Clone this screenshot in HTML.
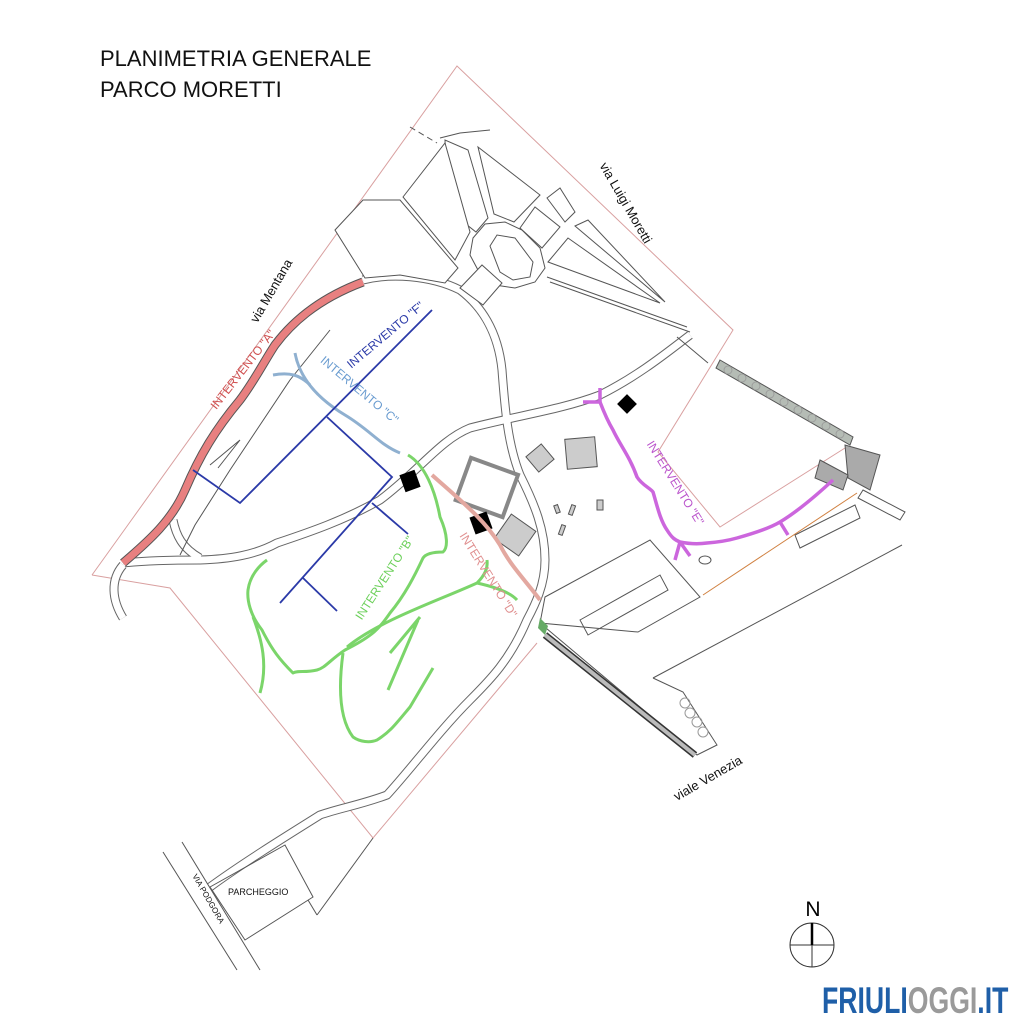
<!DOCTYPE html>
<html><head><meta charset="utf-8"><style>
html,body{margin:0;padding:0;background:#fff}
svg{display:block}
text{font-family:"Liberation Sans",sans-serif}
</style></head><body>
<svg width="1024" height="1024" viewBox="0 0 1024 1024" xmlns="http://www.w3.org/2000/svg">
<rect width="1024" height="1024" fill="#fff"/>
<text x="100" y="66" font-size="22" fill="#111">PLANIMETRIA GENERALE</text>
<text x="100" y="97" font-size="22" fill="#111">PARCO MORETTI</text>

<g fill="none" stroke="#d9a0a0" stroke-width="1">
<polyline points="92,575 457,66 733,330 658,452 720,527 845,448"/>
<polyline points="92,575 170,588 373,838 537,643"/>
</g>
<g fill="none" stroke="#555" stroke-width="1">
<polyline points="373,838 317,915"/>
</g>

<g fill="none" stroke="#666" stroke-width="9" stroke-linejoin="round">
<path id="p1" d="M123,563 C150,560 180,560 200,560 C230,559 255,555 277,543 C310,532 345,520 380,500 C420,470 440,440 470,428 C520,415 560,410 600,395 C640,375 670,350 690,335"/>
<path id="p2" d="M363,280 C390,273 430,275 460,290 C480,305 498,330 502,370 C505,410 508,445 520,475 C535,505 545,530 545,560 C545,585 535,605 527,620 C510,660 490,680 470,700 C440,730 410,770 387,795 C360,805 340,808 320,815 C280,840 240,865 210,887"/>
<path id="p3" d="M173,520 C176,535 182,548 200,558"/>
<path id="p4" d="M123,565 C110,580 112,600 123,618"/>
</g>
<g fill="none" stroke="#fff" stroke-width="7" stroke-linejoin="round">
<use href="#p1"/><use href="#p2"/><use href="#p3"/><use href="#p4"/>
</g>

<g fill="#fff" stroke="#555" stroke-width="1">
<polygon points="473,238 485,224 505,222 522,230 540,248 545,268 535,282 515,288 495,285 478,270 470,255"/>
<polygon points="490,246 497,235 515,238 533,262 530,277 513,280 500,272"/>
<polygon points="478,147 540,195 514,222 494,214"/>
<polygon points="468,150 488,218 476,232 448,210 445,140"/>
<polygon points="520,228 535,207 560,227 542,248"/>
<polygon points="547,198 560,188 575,212 565,222"/>
<polygon points="460,288 482,265 502,283 483,305"/>
<polygon points="548,262 568,238 660,303"/>
<polygon points="575,226 588,220 665,302"/>
<polygon points="403,197 445,143 470,232 455,260"/>
<polygon points="335,230 363,200 400,200 458,268 445,283 400,275 365,278"/>
</g>
<g fill="none" stroke="#555" stroke-width="1">
<polyline points="547,277 687,327"/>
<polyline points="550,282 690,332"/>
<polyline points="677,337 708,363"/>
<polyline points="410,127 437,143" stroke-dasharray="6,4"/>
<polyline points="440,138 460,133 490,130"/>
<polyline points="180,555 195,525 230,470 290,380 330,330"/>
<polyline points="210,465 240,440 218,468"/>
</g>

<g stroke="#555" stroke-width="1" fill="#ccc">
<rect x="530" y="448" width="20" height="20" transform="rotate(-40 540 458)"/>
<rect x="566" y="438" width="30" height="30" transform="rotate(-5 581 453)"/>
<rect x="597" y="500" width="6" height="10"/>
<rect x="570" y="505" width="4" height="10" transform="rotate(20 572 510)"/>
<rect x="560" y="525" width="4" height="10" transform="rotate(20 562 530)"/>
<rect x="555" y="505" width="4" height="8" transform="rotate(-20 557 509)"/>
<rect x="500" y="520" width="30" height="30" transform="rotate(35 515 535)"/>
<polygon points="720,360 853,437 850,445 716,368" fill="#b5bcb5"/>
<polygon points="845,445 880,455 870,490 848,478" fill="#aaa"/>
<polygon points="820,460 848,475 843,490 815,478" fill="#aaa"/>
<polygon points="863,490 905,512 900,520 858,498" fill="#fff"/>
<polygon points="795,535 855,505 860,518 800,548" fill="#fff"/>
</g>
<g fill="none" stroke="#999" stroke-width="0.8">
<circle cx="728" cy="370" r="4"/><circle cx="742" cy="378" r="4"/><circle cx="756" cy="386" r="4"/><circle cx="770" cy="394" r="4"/><circle cx="784" cy="402" r="4"/><circle cx="798" cy="410" r="4"/><circle cx="812" cy="418" r="4"/><circle cx="826" cy="426" r="4"/><circle cx="840" cy="434" r="4"/>
</g>
<rect x="462" y="465" width="50" height="45" fill="none" stroke="#888" stroke-width="4" transform="rotate(20 487 487)"/>
<rect x="402" y="472" width="16" height="18" fill="#000" transform="rotate(-20 410 481)"/>
<rect x="472" y="514" width="18" height="18" fill="#000" transform="rotate(-20 481 523)"/>
<rect x="620" y="397" width="14" height="14" fill="#000" transform="rotate(45 627 404)"/>
<g fill="none" stroke="#555" stroke-width="1">
<polygon points="545,597 650,540 700,597 638,632 540,623"/>
<polygon points="580,620 660,575 668,590 588,635"/>
<polyline points="540,623 697,755 717,745 683,692 653,678"/>
<line x1="653" y1="678" x2="902" y2="545"/>
<line x1="703" y1="595" x2="857" y2="493" stroke="#d08040"/>
<ellipse cx="705" cy="560" rx="6" ry="4"/>
<polyline points="182,842 260,970"/>
<polyline points="163,852 237,970"/>
<polygon points="210,887 285,845 313,897 245,940"/>
<polyline points="308,900 317,915"/>
</g>
<g fill="none" stroke="#999" stroke-width="1">
<circle cx="685" cy="703" r="5"/><circle cx="690" cy="713" r="5"/><circle cx="697" cy="722" r="5"/><circle cx="703" cy="732" r="5"/>
</g>
<path d="M545,635 L695,755" stroke="#333" stroke-width="7" fill="none"/>
<path d="M545,635 L695,755" stroke="#bbb" stroke-width="4" fill="none"/>

<path d="M123,563 C150,540 172,520 185,490 C200,455 215,430 240,400 C255,380 265,360 275,345 C290,325 315,300 363,282" fill="none" stroke="#555" stroke-width="9"/>
<path d="M123,563 C150,540 172,520 185,490 C200,455 215,430 240,400 C255,380 265,360 275,345 C290,325 315,300 363,282" fill="none" stroke="#e88080" stroke-width="7"/>
<g fill="none" stroke="#8fb0d0" stroke-width="3">
<path d="M295,353 C300,380 320,400 345,415 C370,430 380,445 400,453"/>
<path d="M273,375 C290,372 300,375 310,385"/>
</g>
<g fill="none" stroke="#2b3aa8" stroke-width="1.8">
<polyline points="432,310 240,503 193,470"/>
<polyline points="327,417 392,477 280,603"/>
<line x1="372" y1="503" x2="408" y2="534"/>
<line x1="303" y1="578" x2="337" y2="611"/>
</g>
<path d="M432,475 C460,500 485,520 500,545 C510,565 525,580 540,600" fill="none" stroke="#e3a8a0" stroke-width="4"/>
<g fill="none" stroke="#7bd56a" stroke-width="3" stroke-linejoin="round">
<path d="M408,455 C425,465 435,490 440,517 C448,535 448,548 443,552 C430,552 425,555 423,558 C415,575 405,595 390,613 C380,627 375,635 345,650 C330,660 325,668 317,670 C305,673 298,670 293,673 C280,660 272,650 262,630 C250,615 247,600 248,590 C250,575 260,565 267,560"/>
<path d="M253,617 C262,640 268,665 260,693"/>
<path d="M343,653 C338,690 340,720 353,737 C360,742 370,743 377,740 C390,732 395,725 410,707 L433,668"/>
<path d="M347,647 C380,620 440,600 477,583 C485,575 488,568 487,560"/>
<path d="M477,583 C495,587 510,592 517,600"/>
<path d="M390,653 L420,617 M388,690 L418,620"/>
</g>
<g fill="none" stroke="#cc66dd" stroke-width="3.5" stroke-linejoin="round">
<path d="M600,402 C605,415 610,425 613,430 C620,445 630,457 637,477 C642,485 650,488 653,492 C657,505 660,520 667,530 C672,538 675,540 680,542 C690,544 700,544 707,543 C720,542 730,540 737,538 C755,533 770,528 780,522 C800,510 820,492 833,480"/>
<path d="M583,402 L600,402 L600,388"/>
<path d="M675,560 L680,542 L690,556"/>
<path d="M780,522 L788,535"/>
</g>
<polygon points="540,618 548,626 545,635 538,628" fill="#6a6"/>

<g font-size="12">
<text transform="translate(246,372) rotate(-52)" text-anchor="middle" fill="#d05050">INTERVENTO "A"</text>
<text transform="translate(388,338) rotate(-40)" text-anchor="middle" fill="#2b3aa8">INTERVENTO "F"</text>
<text transform="translate(357,393) rotate(40)" text-anchor="middle" fill="#6a9cd0">INTERVENTO "C"</text>
<text transform="translate(388,580) rotate(-57)" text-anchor="middle" fill="#6cd05a">INTERVENTO "B"</text>
<text transform="translate(485,577) rotate(58)" text-anchor="middle" fill="#e09090">INTERVENTO "D"</text>
<text transform="translate(672,485) rotate(58)" text-anchor="middle" fill="#bb55cc">INTERVENTO "E"</text>
<text transform="translate(275,293) rotate(-60)" text-anchor="middle" font-size="13" fill="#111">via Mentana</text>
<text transform="translate(622,205) rotate(60)" text-anchor="middle" font-size="13" fill="#111">via Luigi Moretti</text>
<text transform="translate(710,782) rotate(-30)" text-anchor="middle" font-size="13" fill="#111">viale Venezia</text>
<text transform="translate(206,900) rotate(60)" text-anchor="middle" font-size="8" fill="#111">VIA PODGORA</text>
<text x="228" y="895" font-size="9" fill="#111">PARCHEGGIO</text>
</g>

<text x="813" y="916" font-size="21" text-anchor="middle" fill="#000">N</text>
<circle cx="812" cy="945" r="22" fill="none" stroke="#333" stroke-width="1"/>
<line x1="790" y1="945" x2="834" y2="945" stroke="#333"/>
<line x1="812" y1="923" x2="812" y2="967" stroke="#333"/>
<line x1="812" y1="923" x2="812" y2="945" stroke="#000" stroke-width="2.5"/>

<text x="822" y="1013" font-size="37" font-weight="bold" transform="translate(822,0) scale(0.72,1) translate(-822,0)" fill="#1f5fa8">FRIULI<tspan fill="#9a9a9a">OGGI</tspan>.IT</text>
</svg>
</body></html>
